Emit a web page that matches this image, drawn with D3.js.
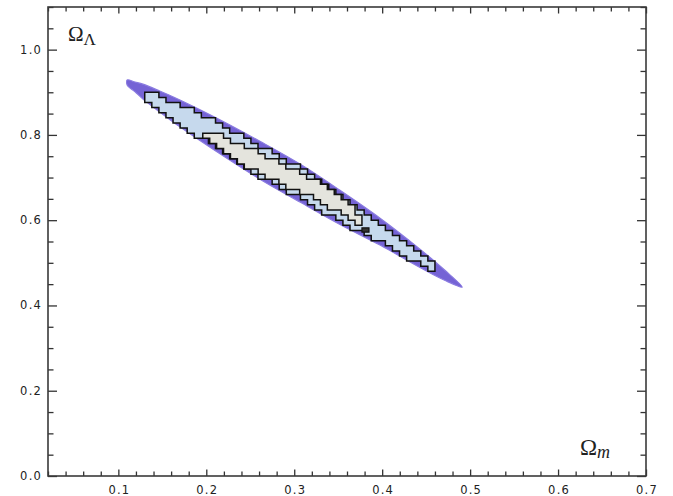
<!DOCTYPE html>
<html><head><meta charset="utf-8">
<script src="https://cdn.jsdelivr.net/npm/d3@7"></script>
<style>body{margin:0;background:#fff} svg{display:block}</style>
</head><body>
<svg id="chart" width="673" height="496"></svg>
<script>
// ---- data ----
const xDomain = [0.02, 0.7];
const yDomain = [0, 1.1];
const xMajorTicks = [0.1, 0.2, 0.3, 0.4, 0.5, 0.6, 0.7];
const xTickLabels = ["0.1", "0.2", "0.3", "0.4", "0.5", "0.6", "0.7"];
const yMajorTicks = [0.0, 0.2, 0.4, 0.6, 0.8, 1.0];
const yTickLabels = ["0.0", "0.2", "0.4", "0.6", "0.8", "1.0"];
const xTitle = "m", yTitle = "Λ";

// outer (smooth) confidence region: upper and lower edges, [Ωm, ΩΛ]
const outerTop = [[0.110,0.929],[0.119,0.924],[0.128,0.919],[0.147,0.903],[0.170,0.882],[0.216,0.835],[0.261,0.785],[0.307,0.731],[0.352,0.670],[0.398,0.604],[0.443,0.532],[0.471,0.483],[0.491,0.443]];
const outerBottom = [[0.110,0.917],[0.119,0.901],[0.128,0.884],[0.147,0.854],[0.170,0.819],[0.216,0.755],[0.261,0.696],[0.307,0.642],[0.352,0.590],[0.398,0.541],[0.443,0.489],[0.471,0.459]];

// middle (gridded) region
const midTop = [[0.130,0.903],[0.147,0.891],[0.170,0.872],[0.216,0.826],[0.261,0.776],[0.307,0.722],[0.352,0.661],[0.398,0.596],[0.443,0.521],[0.460,0.492]];
const midBottom = [[0.130,0.884],[0.147,0.859],[0.170,0.825],[0.216,0.762],[0.261,0.704],[0.307,0.650],[0.352,0.598],[0.398,0.549],[0.443,0.497],[0.460,0.478]];

// inner (gridded) region
const innerTop = [[0.196,0.809],[0.216,0.800],[0.246,0.772],[0.284,0.734],[0.318,0.701],[0.352,0.654],[0.369,0.624],[0.377,0.603]];
const innerBottom = [[0.196,0.793],[0.216,0.769],[0.246,0.725],[0.284,0.685],[0.318,0.657],[0.352,0.617],[0.369,0.596],[0.377,0.589]];

// small isolated inner islet
const islet = [[0.377,0.582],[0.385,0.582],[0.385,0.572],[0.377,0.572]];

// ---- drawing ----
const L = 48, R = 646, T = 7, B = 476;
const svg = d3.select("#chart");
const x = d3.scaleLinear().domain(xDomain).range([L, R]);
const y = d3.scaleLinear().domain(yDomain).range([B, T]);

const line = d3.line().x(d => x(d[0])).y(d => y(d[1]));

// outer smooth region
const outerPoly = outerTop.concat(outerBottom.slice().reverse());
svg.append("path")
  .attr("d", d3.line().x(d => x(d[0])).y(d => y(d[1])).curve(d3.curveCatmullRomClosed.alpha(0.5))(outerPoly))
  .attr("fill", "#7563d5")
  .attr("stroke", "#8a7be0")
  .attr("stroke-width", 1.2);

// gridded contour: quantise the edges to the likelihood grid
function stairs(top, bottom, dx, dy) {
  const tI = d3.scaleLinear().domain(top.map(d => d[0])).range(top.map(d => d[1])).clamp(true);
  const bI = d3.scaleLinear().domain(bottom.map(d => d[0])).range(bottom.map(d => d[1])).clamp(true);
  const x0 = Math.min(top[0][0], bottom[0][0]);
  const x1 = Math.max(top[top.length-1][0], bottom[bottom.length-1][0]);
  const n = Math.max(1, Math.round((x1 - x0) / dx));
  const step = (x1 - x0) / n;
  const snap = v => Math.round(v / dy) * dy;
  const up = [], down = [];
  for (let i = 0; i < n; i++) {
    const a = x0 + i * step, b = a + step, m = (a + b) / 2;
    let yt = snap(tI(m)), yb = snap(bI(m));
    if (yb >= yt) yb = yt - dy;
    up.push([a, yt], [b, yt]);
    down.push([a, yb], [b, yb]);
  }
  return up.concat(down.reverse());
}

svg.append("path")
  .attr("d", line(stairs(midTop, midBottom, 0.008, 0.012)) + "Z")
  .attr("fill", "#c6d9ed")
  .attr("stroke", "#111")
  .attr("stroke-width", 1.5);

svg.append("path")
  .attr("d", line(stairs(innerTop, innerBottom, 0.008, 0.012)) + "Z")
  .attr("fill", "#e4e4dd")
  .attr("stroke", "#111")
  .attr("stroke-width", 1.5);

svg.append("path")
  .attr("d", line(islet) + "Z")
  .attr("fill", "#333")
  .attr("stroke", "#111")
  .attr("stroke-width", 1.2);

// frame and ticks
const xMinor = d3.range(0.02, 0.7001, 0.02).filter(v => !xMajorTicks.some(t => Math.abs(t - v) < 1e-6));
const yMinor = d3.range(0, 1.1001, 0.05).filter(v => !yMajorTicks.some(t => Math.abs(t - v) < 1e-6));

function axisG(axis, tx, ty) {
  const g = svg.append("g").attr("transform", `translate(${tx},${ty})`).call(axis);
  g.select(".domain").remove();
  g.selectAll("line").attr("stroke", "#333").attr("stroke-width", 1.3);
  g.selectAll("text").remove();
  return g;
}
axisG(d3.axisBottom(x).tickValues(xMajorTicks).tickSize(-6.5), 0, B);
axisG(d3.axisBottom(x).tickValues(xMinor).tickSize(-4.5), 0, B);
axisG(d3.axisTop(x).tickValues(xMajorTicks).tickSize(-6.5), 0, T);
axisG(d3.axisTop(x).tickValues(xMinor).tickSize(-4.5), 0, T);
axisG(d3.axisLeft(y).tickValues(yMajorTicks).tickSize(-9), L, 0);
axisG(d3.axisLeft(y).tickValues(yMinor).tickSize(-5.5), L, 0);
axisG(d3.axisRight(y).tickValues(yMajorTicks).tickSize(-9), R, 0);
axisG(d3.axisRight(y).tickValues(yMinor).tickSize(-5.5), R, 0);

svg.append("rect")
  .attr("x", L).attr("y", T).attr("width", R - L).attr("height", B - T)
  .attr("fill", "none").attr("stroke", "#3a3a3a").attr("stroke-width", 1.6);

// tick labels
const lab = { "font-family": "DejaVu Sans, Verdana, sans-serif", "font-size": "11.5px", fill: "#222" };
xMajorTicks.forEach((v, i) => {
  const t = svg.append("text").attr("x", x(v) + 1).attr("y", 494).attr("text-anchor", "middle")
    .attr("letter-spacing", "1.2px").text(xTickLabels[i]);
  Object.entries(lab).forEach(([k, val]) => t.attr(k, val));
});
yMajorTicks.forEach((v, i) => {
  const t = svg.append("text").attr("x", 42).attr("y", y(v) + 4).attr("text-anchor", "end")
    .attr("letter-spacing", "1.2px").text(yTickLabels[i]);
  Object.entries(lab).forEach(([k, val]) => t.attr(k, val));
});

// axis titles
const serif = "Liberation Serif, Times New Roman, serif";
const ty = svg.append("text").attr("x", 68).attr("y", 41).attr("font-family", serif).attr("fill", "#222");
ty.append("tspan").attr("font-size", "21px").text("Ω");
ty.append("tspan").attr("font-size", "17px").attr("dy", 4).text(yTitle);

const tx = svg.append("text").attr("x", 580).attr("y", 455).attr("font-family", serif).attr("fill", "#222");
tx.append("tspan").attr("font-size", "23px").text("Ω");
tx.append("tspan").attr("font-size", "18px").attr("font-style", "italic").attr("dy", 3).text(xTitle);
</script>
</body></html>
